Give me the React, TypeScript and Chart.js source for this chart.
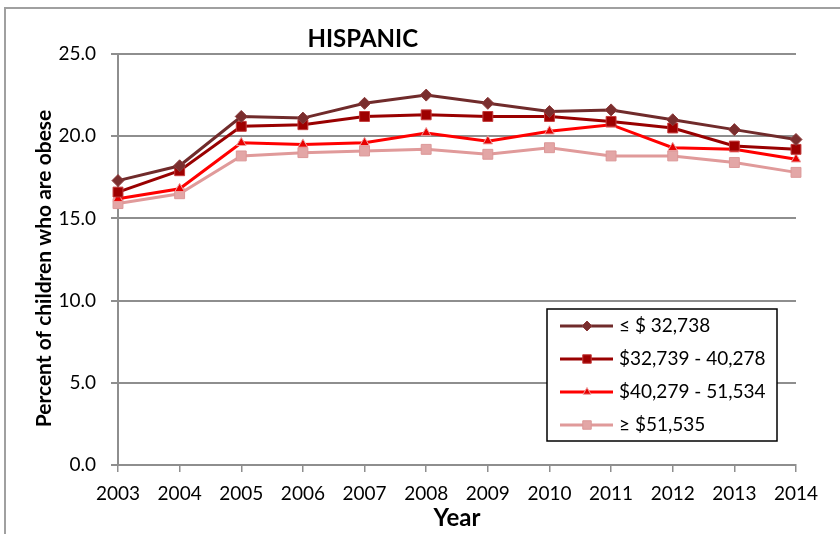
import React, { useEffect, useRef } from 'react';
import { Chart, registerables } from 'chart.js';

Chart.register(...registerables);

const YEARS = ['2003', '2004', '2005', '2006', '2007', '2008', '2009', '2010', '2011', '2012', '2013', '2014'];
const SERIES_LABELS = ['≤ $ 32,738', '$32,739 - 40,278', '$40,279 - 51,534', '≥ $51,535'];
const INCOME_Q1 = [17.3, 18.2, 21.2, 21.1, 22.0, 22.5, 22.0, 21.5, 21.6, 21.0, 20.4, 19.8];
const INCOME_Q2 = [16.6, 17.9, 20.6, 20.7, 21.2, 21.3, 21.2, 21.2, 20.9, 20.5, 19.4, 19.2];
const INCOME_Q3 = [16.2, 16.8, 19.6, 19.5, 19.6, 20.2, 19.7, 20.3, 20.7, 19.3, 19.2, 18.6];
const INCOME_Q4 = [15.9, 16.5, 18.8, 19.0, 19.1, 19.2, 18.9, 19.3, 18.8, 18.8, 18.4, 17.8];
const Y_TICKS = [0, 5, 10, 15, 20, 25];
const TITLE = 'HISPANIC';
const Y_TITLE = 'Percent of children who are obese';
const X_TITLE = 'Year';

const FONT = 'Lato';
const GRID = '#8e8e8e';

function drawMarker(ctx: CanvasRenderingContext2D, style: string, x: number, y: number, r: number, fill: string, stroke: string) {
  ctx.beginPath();
  if (style === 'rectRot') {
    ctx.moveTo(x - r, y);
    ctx.lineTo(x, y - r);
    ctx.lineTo(x + r, y);
    ctx.lineTo(x, y + r);
    ctx.closePath();
  } else if (style === 'rect') {
    const s = r * Math.SQRT1_2;
    ctx.rect(x - s, y - s, 2 * s, 2 * s);
  } else {
    const a = (2 * Math.PI) / 3;
    ctx.moveTo(x, y - r);
    ctx.lineTo(x + Math.sin(a) * r, y - Math.cos(a) * r);
    ctx.lineTo(x + Math.sin(2 * a) * r, y - Math.cos(2 * a) * r);
    ctx.closePath();
  }
  ctx.fillStyle = fill;
  ctx.fill();
  ctx.strokeStyle = stroke;
  ctx.lineWidth = 1;
  ctx.stroke();
}

const framePlugin = {
  id: 'frame',
  beforeDraw(chart: any) {
    const ctx = chart.ctx;
    ctx.save();
    ctx.fillStyle = '#ffffff';
    ctx.fillRect(0, 0, chart.width, chart.height);
    ctx.strokeStyle = '#a0a0a0';
    ctx.lineWidth = 2;
    ctx.strokeRect(5, 8, chart.width + 20, chart.height + 20);
    ctx.restore();
  },
};

const titlePlugin = {
  id: 'customTitle',
  afterDraw(chart: any) {
    const { ctx, chartArea } = chart;
    ctx.save();
    ctx.fillStyle = '#000';
    ctx.textAlign = 'center';
    ctx.textBaseline = 'middle';
    ctx.font = `bold 24px ${FONT}`;
    const x = chartArea.left + (chartArea.right - chartArea.left) * 0.361;
    ctx.fillText(TITLE, x, chartArea.top - 15);
    ctx.translate(44, (chartArea.top + chartArea.bottom) / 2 + 9);
    ctx.rotate(-Math.PI / 2);
    ctx.font = `bold 21px ${FONT}`;
    ctx.fillText(Y_TITLE, 0, 0);
    ctx.restore();
  },
};

const legendPlugin = {
  id: 'boxLegend',
  afterDraw(chart: any) {
    const { ctx, chartArea } = chart;
    const bx = chartArea.right - 249;
    const by = chartArea.top + 255;
    const bw = 230;
    const bh = 132;
    ctx.save();
    ctx.fillStyle = '#fff';
    ctx.fillRect(bx, by, bw, bh);
    ctx.strokeStyle = '#000';
    ctx.lineWidth = 1.5;
    ctx.strokeRect(bx, by, bw, bh);
    chart.data.datasets.forEach((ds: any, i: number) => {
      const y = by + 17 + i * 33;
      ctx.beginPath();
      ctx.moveTo(bx + 13, y);
      ctx.lineTo(bx + 66, y);
      ctx.strokeStyle = ds.borderColor;
      ctx.lineWidth = 3;
      ctx.stroke();
      drawMarker(ctx, ds.pointStyle, bx + 40, y, ds.pointRadius - 1, ds.pointBackgroundColor, ds.pointBorderColor);
      ctx.fillStyle = '#000';
      ctx.font = `19px ${FONT}`;
      ctx.textAlign = 'left';
      ctx.textBaseline = 'middle';
      ctx.fillText(ds.label, bx + 72, y);
    });
    ctx.restore();
  },
};

export default function App() {
  const ref = useRef<HTMLCanvasElement>(null);

  useEffect(() => {
    document.body.style.margin = '0';
    const canvas = ref.current!;
    const chart = new Chart(canvas, {
      type: 'line',
      data: {
        labels: YEARS,
        datasets: [
          {
            label: SERIES_LABELS[0],
            data: INCOME_Q1,
            borderColor: '#702b2b',
            borderWidth: 3,
            pointStyle: 'rectRot',
            pointRadius: 6,
            pointBackgroundColor: '#7a2e2e',
            pointBorderColor: '#8c3a3a',
            pointBorderWidth: 1,
            tension: 0,
          },
          {
            label: SERIES_LABELS[1],
            data: INCOME_Q2,
            borderColor: '#990000',
            borderWidth: 3,
            pointStyle: 'rect',
            pointRadius: 7,
            pointBackgroundColor: '#9e0000',
            pointBorderColor: '#c43a3a',
            pointBorderWidth: 1,
            tension: 0,
          },
          {
            label: SERIES_LABELS[2],
            data: INCOME_Q3,
            borderColor: '#ff0000',
            borderWidth: 3,
            pointStyle: 'triangle',
            pointRadius: 5.5,
            pointBackgroundColor: '#e80000',
            pointBorderColor: '#eba0a0',
            pointBorderWidth: 1,
            tension: 0,
          },
          {
            label: SERIES_LABELS[3],
            data: INCOME_Q4,
            borderColor: '#e09a9a',
            borderWidth: 3,
            pointStyle: 'rect',
            pointRadius: 7,
            pointBackgroundColor: '#e3a6a6',
            pointBorderColor: '#dc9898',
            pointBorderWidth: 1,
            tension: 0,
          },
        ],
      },
      options: {
        responsive: false,
        maintainAspectRatio: false,
        animation: false,
        layout: { padding: { left: 0, top: 54, right: 44, bottom: 0 } },
        plugins: {
          legend: { display: false },
          title: { display: false },
          tooltip: { enabled: false },
        },
        scales: {
          x: {
            type: 'category',
            offset: false,
            grid: { drawOnChartArea: false, drawTicks: true, tickLength: 7, color: GRID, lineWidth: 1.5 },
            border: { display: true, color: GRID, width: 2 },
            ticks: { color: '#000', font: { family: FONT, size: 19 }, padding: 10, maxRotation: 0, autoSkip: false },
            title: { display: true, text: X_TITLE, color: '#000', font: { family: FONT, size: 24, weight: 'bold' }, padding: { top: 0, bottom: 1 } },
            afterFit: (s: any) => { s.height = 69; },
          },
          y: {
            min: 0,
            max: 25,
            afterBuildTicks: (s: any) => { s.ticks = Y_TICKS.map((v) => ({ value: v })); },
            grid: { drawOnChartArea: true, drawTicks: true, tickLength: 7, color: GRID, lineWidth: 2 },
            border: { display: true, color: GRID, width: 2 },
            ticks: { color: '#000', font: { family: FONT, size: 19 }, padding: 15, callback: (v: any) => Number(v).toFixed(1) },
            title: { display: false },
            afterFit: (s: any) => { s.width = 118; },
          },
        },
      },
      plugins: [framePlugin, titlePlugin, legendPlugin],
    } as any);
    return () => chart.destroy();
  }, []);

  return (
    <div style={{ width: 840, height: 534 }}>
      <canvas ref={ref} width={840} height={534} style={{ display: 'block', width: 840, height: 534 }} />
    </div>
  );
}
